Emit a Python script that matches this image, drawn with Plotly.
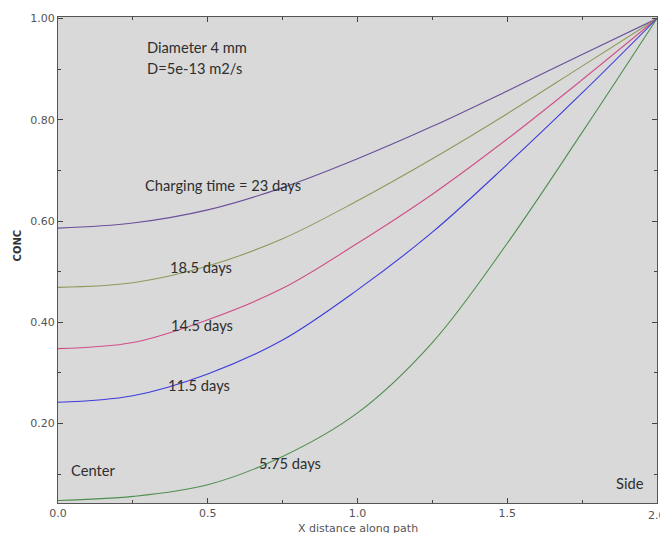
import plotly.graph_objects as go

# Distance along the path (mm) at which each profile was sampled
x_pos = [0.0, 0.25, 0.5, 0.75, 1.0, 1.25, 1.5, 1.75, 2.0]

# Concentration profiles for each charging time
conc_23 = [0.586, 0.596, 0.622, 0.666, 0.723, 0.787, 0.857, 0.929, 1.0]
conc_18_5 = [0.469, 0.478, 0.511, 0.565, 0.640, 0.723, 0.812, 0.906, 1.0]
conc_14_5 = [0.348, 0.360, 0.405, 0.467, 0.556, 0.653, 0.762, 0.879, 1.0]
conc_11_5 = [0.242, 0.255, 0.298, 0.365, 0.464, 0.578, 0.712, 0.853, 1.0]
conc_5_75 = [0.048, 0.056, 0.079, 0.135, 0.221, 0.360, 0.556, 0.775, 1.0]

series = [
    ("23 days", conc_23, "#6b4f9a"),
    ("18.5 days", conc_18_5, "#8d9a5b"),
    ("14.5 days", conc_14_5, "#cf4f8a"),
    ("11.5 days", conc_11_5, "#3c3cdc"),
    ("5.75 days", conc_5_75, "#4f8f4f"),
]

x_ticks = [0.0, 0.5, 1.0, 1.5, 2.0]
y_ticks = [0.2, 0.4, 0.6, 0.8, 1.0]

fig = go.Figure()
for name, vals, color in series:
    fig.add_trace(go.Scatter(
        x=x_pos, y=vals, mode="lines", name=name,
        line=dict(color=color, width=1.1, shape="spline", smoothing=1.0),
        showlegend=False,
    ))

label_font = dict(family="Lato, Open Sans, sans-serif", size=14.7, color="#2e2e2e")
notes = [
    ("Diameter 4 mm", 0.29, 0.943),
    ("D=5e-13 m2/s", 0.29, 0.902),
    ("Charging time = 23 days", 0.285, 0.672),
    ("18.5 days", 0.367, 0.510),
    ("14.5 days", 0.37, 0.395),
    ("11.5 days", 0.362, 0.277),
    ("5.75 days", 0.665, 0.123),
    ("Center", 0.037, 0.109),
    ("Side", 1.856, 0.083),
]
for text, xv, yv in notes:
    fig.add_annotation(x=xv, y=yv, text=text, showarrow=False,
                       xanchor="left", yanchor="middle", font=label_font)

axis_font = dict(family="DejaVu Sans, Verdana, sans-serif", size=11, color="#555555")

# The last x tick label sits on the right edge of the page and runs off it
last_tick = x_ticks[-1]
fig.add_annotation(x=last_tick, xref="x", yref="paper", y=0, yshift=-4,
                   text=f"{last_tick:.1f}", showarrow=False,
                   xanchor="center", yanchor="top", font=axis_font)

fig.add_annotation(xref="paper", yref="paper", x=0.5, y=0, yshift=-17,
                   text="X distance along path", showarrow=False,
                   xanchor="center", yanchor="top", font=axis_font)
fig.add_annotation(xref="paper", yref="paper", x=0, xshift=-41, y=0.53,
                   text="<b>CONC</b>", showarrow=False, textangle=-90,
                   xanchor="center", yanchor="middle",
                   font=dict(family="DejaVu Sans, Verdana, sans-serif", size=10, color="#333333"))

fig.update_layout(
    width=660, height=533,
    margin=dict(l=58, r=3, t=17, b=30),
    paper_bgcolor="white",
    plot_bgcolor="#d9d9d9",
    xaxis=dict(
        range=[0, 2], tickvals=x_ticks,
        ticktext=[f"{v:.1f}" if v != last_tick else "" for v in x_ticks],
        ticks="inside", ticklen=5, tickcolor="#444444",
        minor=dict(ticks="inside", ticklen=3, dtick=0.25, tick0=0, tickcolor="#444444"),
        showline=True, linecolor="#555555", linewidth=1.2, mirror="allticks",
        showgrid=False, zeroline=False, tickfont=axis_font, automargin=False,
    ),
    yaxis=dict(
        range=[0.043, 1.003], tickvals=y_ticks, ticktext=[f"{v:.2f}" for v in y_ticks],
        ticks="inside", ticklen=5, tickcolor="#444444",
        minor=dict(ticks="inside", ticklen=3, dtick=0.1, tick0=0, tickcolor="#444444"),
        showline=True, linecolor="#555555", linewidth=1.2, mirror="allticks",
        showgrid=False, zeroline=False, tickfont=axis_font, automargin=False,
    ),
)

fig.write_html("out.html")
